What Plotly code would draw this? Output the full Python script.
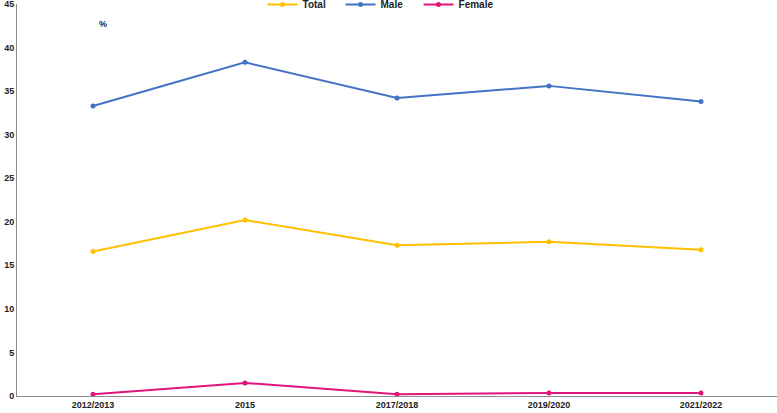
import plotly.graph_objects as go

categories = ["2012/2013", "2015", "2017/2018", "2019/2020", "2021/2022"]
total = [16.6, 20.2, 17.3, 17.7, 16.8]
male = [33.3, 38.3, 34.2, 35.6, 33.8]
female = [0.2, 1.5, 0.2, 0.35, 0.35]

series = [("Total", total, "#FFC000"), ("Male", male, "#4472C4"), ("Female", female, "#E0157A")]

fig = go.Figure()
for name, vals, col in series:
    fig.add_trace(go.Scatter(x=categories, y=vals, name=name, mode="lines+markers",
                             line=dict(color=col, width=2), marker=dict(color=col, size=5)))

font_family = "Liberation Sans, Arial, sans-serif"
fig.update_layout(
    width=777, height=413,
    margin=dict(l=17, r=0, t=4, b=17, autoexpand=False),
    paper_bgcolor="white", plot_bgcolor="white",
    font=dict(family=font_family, size=9, color="#222"),
    showlegend=True,
    legend=dict(orientation="h", x=0.477, xanchor="center", y=1.036, yanchor="top",
                font=dict(size=10, family=font_family, weight="bold"),
                entrywidth=33, entrywidthmode="pixels", itemwidth=30,
                bgcolor="rgba(255,255,255,0)", tracegroupgap=0),
    xaxis=dict(type="category", showgrid=False, showline=True, linecolor="#8c8c8c", linewidth=1,
               ticks="", tickfont=dict(size=9, weight="bold"), range=[-0.5, 4.5], zeroline=False),
    yaxis=dict(range=[0, 45], dtick=5, showgrid=False, showline=True, linecolor="#8c8c8c", linewidth=1,
               ticks="", tickfont=dict(size=9, weight="bold"), zeroline=False,
               ticklabeloverflow="allow"),
    annotations=[dict(text="<b>%</b>", x=(103 - 17) / 760, y=1 - (24 - 4) / 392, xref="paper", yref="paper",
                      showarrow=False, xanchor="center", yanchor="middle", font=dict(size=9))],
)

fig.write_html("out.html")
